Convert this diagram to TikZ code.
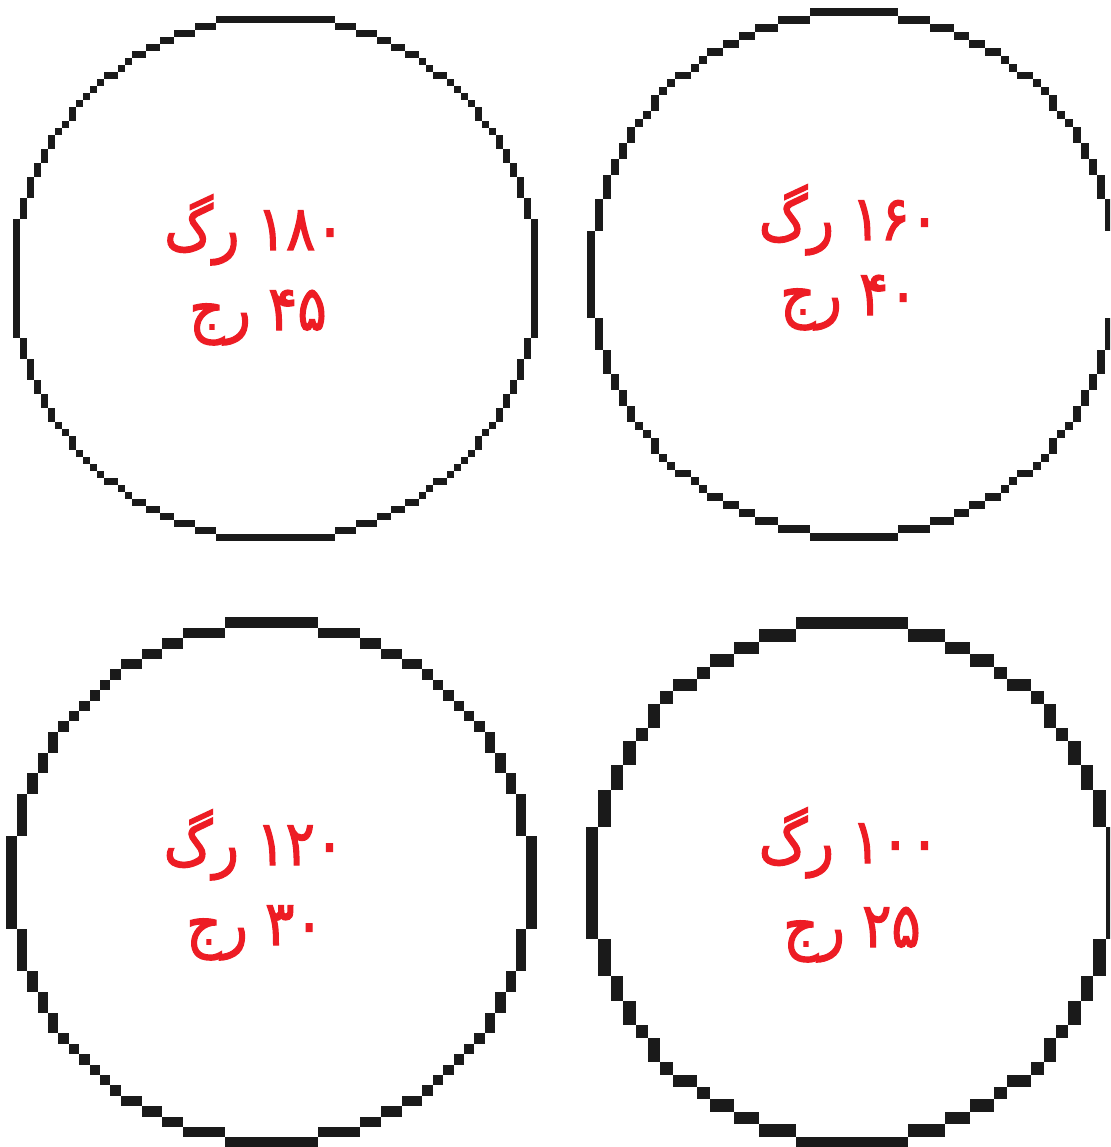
\documentclass[tikz,border=0pt]{standalone}
\usepackage{fontspec}
\newfontfamily\arabicfont[Script=Arabic,FakeBold=2.2]{DejaVu Sans}
\TeXXeTstate=1
\definecolor{txtred}{HTML}{ED1C24}
\definecolor{ink}{HTML}{1A1A1A}
% rasterised circle: centre (cx,cy), cell size s, radius R (in cells)
\newcommand\pixring[4]{%
  \pgfmathtruncatemacro\pxM{floor(#4/sqrt(2))+1}%
  \foreach \pxi in {-\pxM,...,\pxM}{%
    \pgfmathsetmacro\pxj{round(sqrt(max((#4)*(#4)-(\pxi)*(\pxi),0)))}%
    \fill[ink] ({#1+(\pxi)*#3-#3/2},{#2+\pxj*#3-#3/2}) rectangle ++(#3,#3);
    \fill[ink] ({#1+(\pxi)*#3-#3/2},{#2-\pxj*#3-#3/2}) rectangle ++(#3,#3);
    \fill[ink] ({#1+\pxj*#3-#3/2},{#2+(\pxi)*#3-#3/2}) rectangle ++(#3,#3);
    \fill[ink] ({#1-\pxj*#3-#3/2},{#2+(\pxi)*#3-#3/2}) rectangle ++(#3,#3);
  }%
}
\newcommand\rtltext[1]{\scalebox{0.88}[1]{\beginR #1\endR}}
\tikzset{lab/.style={text=txtred, anchor=base, inner sep=0pt,
  font=\arabicfont\fontsize{62}{64}\selectfont}}
\begin{document}
\begin{tikzpicture}[x=1pt,y=-1pt]
\useasboundingbox (0,0) rectangle (1110,1147);
\clip (0,0) rectangle (1110,1147);
\fill[white] (0,0) rectangle (1110,1147);
\pixring{275}{278.5}{7}{37.4}
\pixring{854}{274.5}{7.96}{33}
\pixring{271.5}{882.5}{10.4}{25}
\pixring{852}{883}{12.37}{21}
\node[lab] (a1) at (254.5,250) {\rtltext{۱۸۰ رگ}};
\node[lab] (a2) at (258,330) {\rtltext{۴۵ رج}};
\node[lab] (b1) at (849,240) {\rtltext{۱۶۰ رگ}};
\node[lab] (b2) at (849,315) {\rtltext{۴۰ رج}};
\node[lab] (c1) at (254,865) {\rtltext{۱۲۰ رگ}};
\node[lab] (c2) at (255,945) {\rtltext{۳۰ رج}};
\node[lab] (d1) at (849,863) {\rtltext{۱۰۰ رگ}};
\node[lab] (d2) at (852,947) {\rtltext{۲۵ رج}};
\end{tikzpicture}
\end{document}
